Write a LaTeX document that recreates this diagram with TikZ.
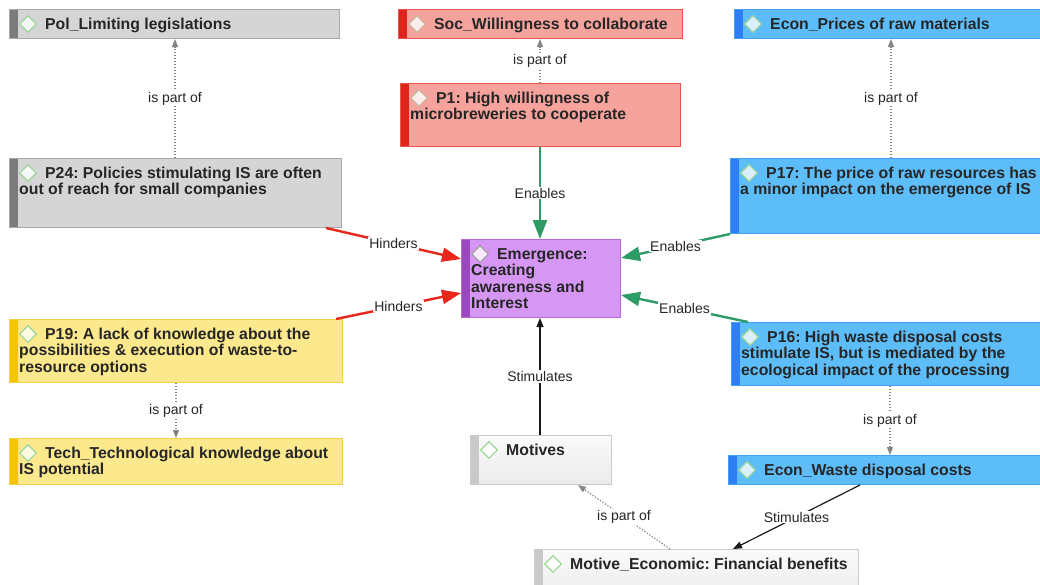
\documentclass[tikz,border=0pt]{standalone}
\usepackage{fontspec}
\setmainfont{Liberation Sans}
\usetikzlibrary{arrows.meta,shapes.geometric}
\frenchspacing

% box palettes: fill, outline, side band, icon fill, icon outline
\definecolor{gFill}{HTML}{D5D5D5}\definecolor{gLine}{HTML}{A8A8A8}\definecolor{gBand}{HTML}{7B7B7B}
\definecolor{rFill}{HTML}{F5A39C}\definecolor{rLine}{HTML}{E4574F}\definecolor{rBand}{HTML}{E0231B}
\definecolor{bFill}{HTML}{5DBDF9}\definecolor{bLine}{HTML}{3FA3F2}\definecolor{bBand}{HTML}{2E7FF6}
\definecolor{pFill}{HTML}{D597F3}\definecolor{pLine}{HTML}{B36AD8}\definecolor{pBand}{HTML}{9B47BF}
\definecolor{yFill}{HTML}{FDE98D}\definecolor{yLine}{HTML}{F2CF48}\definecolor{yBand}{HTML}{F6C400}
\definecolor{wTop}{HTML}{FAFAFA}\definecolor{wBot}{HTML}{EBEBEB}\definecolor{wLine}{HTML}{CBCBCB}\definecolor{wBand}{HTML}{C9C9C9}
\definecolor{iconGreen}{HTML}{9CD699}\definecolor{iconTan}{HTML}{C9B59C}\definecolor{iconGray}{HTML}{A0A0A0}
\definecolor{txt}{HTML}{262626}
\definecolor{enGreen}{HTML}{2E9A65}
\definecolor{hiRed}{HTML}{E8261C}
\definecolor{partGray}{HTML}{858585}

% a coloured code box with its icon and its (top-aligned) text
\newcommand\codebox[7]{%
  \node[#2 box, minimum width=#5pt, minimum height=#6pt] (#1) at (#3,#4) {};
  \node[#2 icon] (#1-icon) at ([shift={(19pt,-15pt)}]#1.north west) {};
  \node[boxtext] (#1-text) at ([shift={(10pt,-20pt)}]#1.north west)
    {\begin{tabular}[t]{@{}l@{}}\hspace*{26pt}#7\end{tabular}};
}

\begin{document}
\begin{tikzpicture}[x=1pt,y=-1pt,
  box/.style={rectangle, anchor=north west, inner sep=0pt, line width=1pt},
  banded/.style={path picture={\fill[#1] (path picture bounding box.north west)
      rectangle ([xshift=8pt]path picture bounding box.south west);}},
  gray box/.style={box, fill=gFill, draw=gLine, banded=gBand},
  red box/.style={box, fill=rFill, draw=rLine, banded=rBand},
  blue box/.style={box, fill=bFill, draw=bLine, banded=bBand},
  purple box/.style={box, fill=pFill, draw=pLine, banded=pBand},
  yellow box/.style={box, fill=yFill, draw=yLine, banded=yBand},
  white box/.style={box, top color=wTop, bottom color=wBot, draw=wLine, banded=wBand},
  icon/.style={diamond, minimum width=17pt, minimum height=17pt, inner sep=0pt, line width=1.1pt},
  gray icon/.style={icon, fill=white!80!gFill, draw=iconGreen},
  red icon/.style={icon, fill=white!82!rFill, draw=iconTan},
  blue icon/.style={icon, fill=white!78!bFill, draw=iconGreen},
  purple icon/.style={icon, fill=white!80!pFill, draw=iconGray},
  yellow icon/.style={icon, fill=white!75!yFill, draw=iconGreen},
  white icon/.style={icon, fill=white, draw=iconGreen},
  boxtext/.style={anchor=base west, inner sep=0pt, text=txt,
      font=\fontsize{15.8}{16.5}\selectfont\bfseries},
  lbl/.style={fill=white, inner sep=1pt, text=txt, font=\fontsize{14}{16}\selectfont},
  partof/.style={draw=partGray, line width=1.2pt, dash pattern=on 1.3pt off 1.7pt,
      -{Triangle[length=8pt,width=6pt]}},
  enables/.style={draw=enGreen, line width=2.4pt, -{Triangle[length=19pt,width=14pt]}},
  hinders/.style={draw=hiRed, line width=2.4pt, -{Triangle[length=19pt,width=14pt]}},
  stimulates/.style={draw=black!90, line width=1.2pt, -{Triangle[length=9pt,width=7pt]}}
]
\useasboundingbox (0,0) rectangle (1040,584);

% code boxes
\codebox{pol}{gray}{9}{9}{330}{29}{Pol\_Limiting legislations}
\codebox{soc}{red}{398}{9}{284}{29}{Soc\_Willingness to collaborate}
\codebox{price}{blue}{734}{9}{330}{29}{Econ\_Prices of raw materials}
\codebox{p1}{red}{400}{83}{280}{63}{P1: High willingness of\\microbreweries to cooperate}
\codebox{p24}{gray}{9}{158}{332}{69}{P24: Policies stimulating IS are often\\out of reach for small companies}
\codebox{p17}{blue}{730}{158}{330}{75}{P17: The price of raw resources has\\a minor impact on the emergence of IS}
\codebox{emer}{purple}{461}{239}{159}{78}{Emergence:\\Creating\\awareness and\\Interest}
\codebox{p19}{yellow}{9}{319}{333}{63}{P19: A lack of knowledge about the\\possibilities \& execution of waste-to-\\resource options}
\codebox{p16}{blue}{731}{322}{330}{63}{P16: High waste disposal costs\\stimulate IS, but is mediated by the\\ecological impact of the processing}
\codebox{tech}{yellow}{9}{438}{333}{46}{Tech\_Technological knowledge about\\IS potential}
\codebox{motives}{white}{470}{435}{141}{49}{Motives}
\codebox{waste}{blue}{728}{455}{330}{29}{Econ\_Waste disposal costs}
\codebox{motec}{white}{534}{549}{324}{50}{Motive\_Economic: Financial benefits}

% "is part of" links
\draw[partof] ([xshift=166pt]p24.north west) -- node[lbl] (l-pol) {is part of} ([xshift=166pt]pol.south west);
\draw[partof] ([xshift=140pt]p1.north west) -- node[lbl] (l-soc) {is part of} ([xshift=142pt]soc.south west);
\draw[partof] ([xshift=161pt]p17.north west) -- node[lbl] (l-price) {is part of} ([xshift=157pt]price.south west);
\draw[partof] ([xshift=167pt]p19.south west) -- node[lbl] (l-tech) {is part of} ([xshift=167pt]tech.north west);
\draw[partof] ([xshift=159pt]p16.south west) -- node[lbl] (l-waste) {is part of} ([xshift=162pt]waste.north west);
\draw[partof] ([xshift=136pt]motec.north west) -- node[lbl] (l-motives) {is part of} ([xshift=108pt]motives.south west);

% causal links into the emergence box
\draw[enables] ([xshift=140pt]p1.south west) -- node[lbl] (l-p1) {Enables} ([xshift=79pt]emer.north west);
\draw[hinders] ([xshift=-16pt]p24.south east) -- node[lbl] (l-p24) {Hinders} ([yshift=-20pt]emer.north west);
\draw[hinders] ([xshift=-7pt]p19.north east) -- node[lbl] (l-p19) {Hinders} ([yshift=-54pt]emer.north west);
\draw[enables] (p17.south west) -- node[lbl] (l-p17) {Enables} ([yshift=-19pt]emer.north east);
\draw[enables] ([xshift=17pt]p16.north west) -- node[lbl] (l-p16) {Enables} ([yshift=-56pt]emer.north east);
\draw[stimulates] ([xshift=70pt]motives.north west) -- node[lbl] (l-mot) {Stimulates} ([xshift=79pt]emer.south west);
\draw[stimulates] ([xshift=132pt]waste.south west) -- node[lbl] (l-wst) {Stimulates} ([xshift=199pt]motec.north west);
\end{tikzpicture}
\end{document}
